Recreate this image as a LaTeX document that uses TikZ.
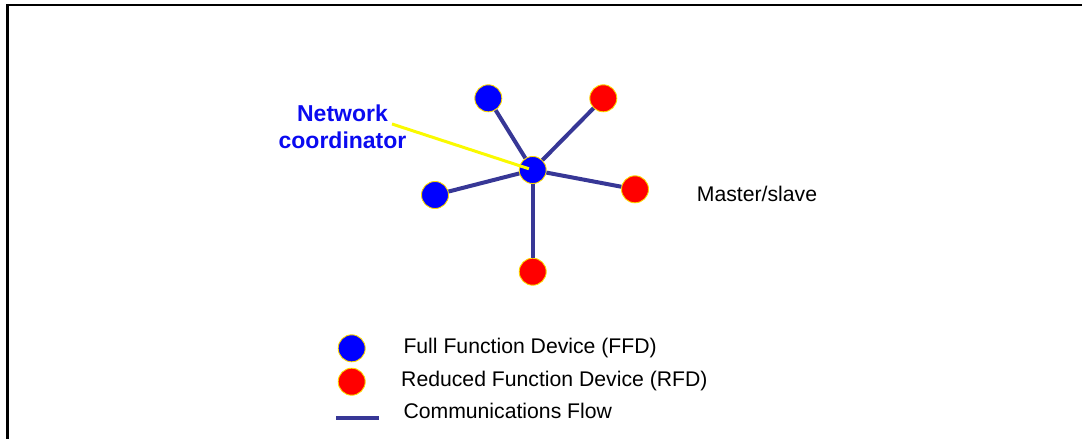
\documentclass[tikz,border=0pt]{standalone}
\usepackage{fontspec}
\setmainfont{Liberation Sans}
\definecolor{ffdblue}{RGB}{0,0,255}
\definecolor{rfdred}{RGB}{255,0,0}
\definecolor{ringyellow}{RGB}{250,215,0}
\definecolor{flownavy}{RGB}{55,55,150}
\definecolor{pointeryellow}{RGB}{250,250,0}
\definecolor{labelblue}{RGB}{10,10,240}
\tikzset{
  dev/.style={circle, draw=ringyellow, line width=0.9pt, minimum size=27pt, inner sep=0pt},
  ffd/.style={dev, fill=ffdblue},
  rfd/.style={dev, fill=rfdred},
  link/.style={draw=flownavy, line width=4pt},
  legtext/.style={anchor=base west, inner sep=0pt, font=\fontsize{21.2}{25}\selectfont},
  frame/.style={line width=2.4pt, black}
}
\begin{document}
\begin{tikzpicture}[x=1pt,y=-1pt]
\useasboundingbox (0,0) rectangle (1082,439);
% frame
\draw[frame] (7.5,439) -- (7.5,5) -- (1082,5);
% nodes
\node[ffd] (c)  at (532.7,170) {};
\node[ffd] (n1) at (488.3,98.3) {};
\node[rfd] (n2) at (603.3,98.3) {};
\node[rfd] (n3) at (635,189.3) {};
\node[rfd] (n4) at (532.7,271.7) {};
\node[ffd] (n5) at (435,195) {};
\foreach \n in {n1,n2,n3,n4,n5} \draw[link] (c) -- (\n);
% label
\node[align=center, inner sep=0pt, text=labelblue,
      font=\fontsize{23}{26.7}\selectfont\bfseries] (lab) at (342.5,126.5) {Network\\coordinator};
\coordinate (ptr) at (392,124);
\draw[pointeryellow, line width=3pt, shorten >=4pt] (ptr) -- (c.center);
\node[legtext] (ms) at (696.7,201.7) {Master/slave};
% legend
\node[ffd] (lb) at (351.7,348.3) {};
\node[rfd] (lr) at (351.7,381.7) {};
\coordinate (l1) at (336,417.7);
\coordinate (l2) at (379.3,417.7);
\draw[link] (l1) -- (l2);
\node[legtext] (tf) at (403.3,353) {Full Function Device (FFD)};
\node[legtext] (tr) at (401,386.7) {Reduced Function Device (RFD)};
\node[legtext] (tc) at (403.3,418.3) {Communications Flow};
\end{tikzpicture}
\end{document}
